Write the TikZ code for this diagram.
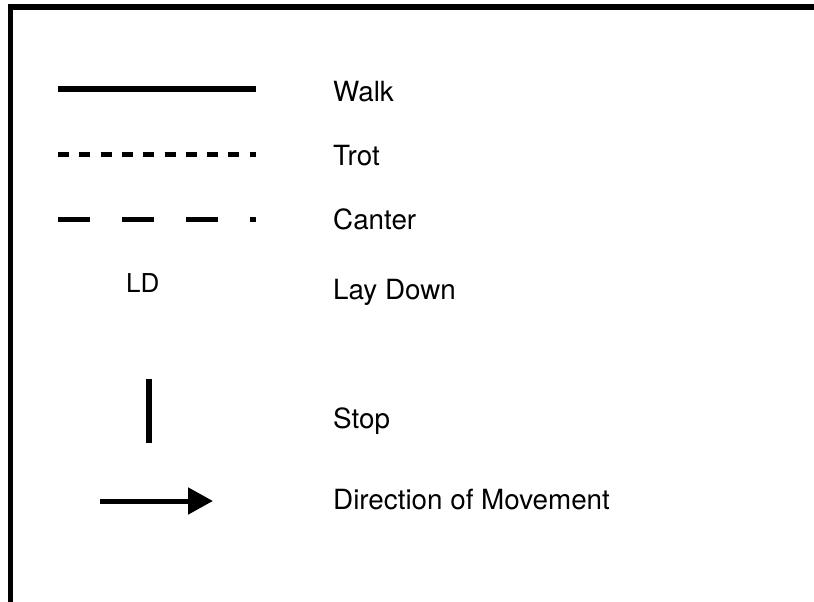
\documentclass[tikz,border=0pt]{standalone}
\usepackage{fontspec}
\setmainfont{TeX Gyre Heros}
\usetikzlibrary{arrows.meta}
\begin{document}
\begin{tikzpicture}[x=1pt,y=-1pt,
  lbl/.style={anchor=base west,inner sep=0pt,font=\fontsize{27.8}{30}\selectfont},
  ldlbl/.style={anchor=base west,inner sep=0pt,font=\fontsize{26}{28}\selectfont},
  frame/.style={line width=5.5pt},
  walkline/.style={line width=5.5pt},
  trotline/.style={line width=5pt,dash pattern=on 11pt off 10.3pt},
  canterline/.style={line width=5pt,dash pattern=on 32.3pt off 31.7pt},
  stopline/.style={line width=5.5pt},
  dirarrow/.style={line width=5pt,-{Triangle[length=25pt,width=26pt]}}]
\useasboundingbox (0,0) rectangle (814,602);
\clip (0,0) rectangle (814,602);
\fill[white] (0,0) rectangle (814,602);
% frame
\coordinate (fb) at (10.5,640);
\coordinate (fc) at (10.5,7);
\coordinate (fr) at (860,7);
\draw[frame] (fb) -- (fc) -- (fr);
% samples
\coordinate (w1) at (58,89);  \coordinate (w2) at (256,89);
\draw[walkline] (w1) -- (w2);
\coordinate (t1) at (58,154); \coordinate (t2) at (256,154);
\draw[trotline] (t1) -- (t2);
\coordinate (c1) at (58,219); \coordinate (c2) at (256,219);
\draw[canterline] (c1) -- (c2);
\node[ldlbl] (ld) at (126,292) {LD};
\coordinate (s1) at (149,379); \coordinate (s2) at (149,443);
\draw[stopline] (s1) -- (s2);
\coordinate (a1) at (100,501); \coordinate (a2) at (213,501);
\draw[dirarrow] (a1) -- (a2);
% labels
\node[lbl] (walk) at (333,101) {Walk};
\node[lbl] (trot) at (333,165) {Trot};
\node[lbl] (canter) at (333,229) {Canter};
\node[lbl] (lay) at (333,299) {Lay Down};
\node[lbl] (stop) at (333,428) {Stop};
\node[lbl] (dir) at (333,509) {Direction of Movement};
\end{tikzpicture}
\end{document}
